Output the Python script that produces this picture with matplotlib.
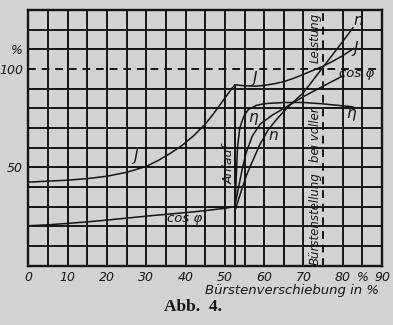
import matplotlib
matplotlib.use("Agg")
import matplotlib.pyplot as plt
import numpy as np

# Abb. 4 (x: Bürstenverschiebung in %, y: %)
J1_x = [0, 5, 10, 15, 20, 25, 30, 33, 36, 39, 42, 45, 47, 49, 51, 52.5]
J1_y = [42.5, 43, 43.5, 44.3, 45.5, 47.5, 50.5, 53.5, 57, 61, 66, 72, 77, 82.5, 88, 92]
J2_x = [52.5, 55, 58, 60, 62.5, 65, 67.5, 70, 72.5, 75, 77.5, 80, 82.8]
J2_y = [92, 91.5, 91.3, 91.7, 92.5, 93.6, 95.3, 97.3, 99.4, 101.5, 104, 106.8, 110.5]

cos1_x = [0, 5, 10, 15, 20, 25, 30, 35, 40, 45, 50, 52.5]
cos1_y = [20.3, 20.8, 21.5, 22.3, 23.2, 24.2, 25.2, 26.1, 27, 28, 29.2, 30]
cos2_x = [52.5, 53.5, 54.5, 55.5, 57, 59, 62, 65, 70, 75, 80]
cos2_y = [30, 40, 50, 58, 66, 72, 76.5, 80, 86, 91.3, 96.5]

n_x = [52.6, 54, 55.5, 57, 59, 61, 63, 65, 67, 70, 75, 80, 82.6]
n_y = [28, 37, 46, 53, 62, 69, 74, 78.5, 82.5, 88, 101, 114, 121]

eta_x = [52.6, 52.9, 53.2, 53.8, 54.8, 56, 58, 60, 65, 70, 75, 80, 82.6]
eta_y = [30, 45, 60, 70, 76, 79.5, 81.5, 82.4, 83, 83, 82.3, 81.3, 80.8]

anlauf_x = 52.5
volle_x = 75

xticks = [0, 10, 20, 30, 40, 50, 60, 70, 80, 85, 90]
xlabels = ["0", "10", "20", "30", "40", "50", "60", "70", "80", "%", "90"]
yticks = [50, 100, 110]
ylabels = ["50", "100", "%"]

paper = "#d2d2d2"
ink = "#141414"

fig = plt.figure(figsize=(3.93, 3.25), dpi=100, facecolor=paper)
ax = fig.add_axes([0.0725, 0.1825, 0.8995, 0.7865])
ax.set_facecolor(paper)
ax.set_xlim(0, 90)
ax.set_ylim(0, 130)

# grid paper
for gx in np.arange(5, 90, 5):
    if gx != volle_x:
        ax.axvline(gx, color=ink, lw=1.4, zorder=1)
for gy in np.arange(10, 130, 10):
    if gy != 100:
        ax.axhline(gy, color=ink, lw=1.4, zorder=1)
ax.axhline(100, color=ink, lw=1.4, ls=(0, (4, 3)), zorder=1)
ax.axvline(volle_x, color=ink, lw=1.4, ls=(0, (4, 3)), zorder=1)
for s in ax.spines.values():
    s.set_linewidth(1.7)
    s.set_color(ink)

# curves
lw = 1.1
ax.plot(J1_x, J1_y, color=ink, lw=lw, zorder=3)
ax.plot(J2_x, J2_y, color=ink, lw=lw, zorder=3)
ax.plot([anlauf_x, anlauf_x], [0, J1_y[-1]], color=ink, lw=1.4, zorder=3)
ax.plot(cos1_x, cos1_y, color=ink, lw=lw, zorder=3)
ax.plot(cos2_x, cos2_y, color=ink, lw=lw, zorder=3)
ax.plot(n_x, n_y, color=ink, lw=lw, zorder=3)
ax.plot(eta_x, eta_y, color=ink, lw=lw, zorder=3)

# curve labels
lab = dict(color=ink, style="italic", ha="center", va="center", zorder=4)
ax.text(27.3, 55.5, "J", fontsize=11, **lab)
ax.text(57.6, 95, "J", fontsize=11, **lab)
ax.text(83.3, 110.5, "J", fontsize=11, **lab)
ax.text(84.0, 124.5, "n", fontsize=11, **lab)
ax.text(62.3, 66.4, "n", fontsize=11, **lab)
ax.text(57.2, 75.2, "η", fontsize=11, **lab)
ax.text(82.2, 77.5, "η", fontsize=11, **lab)
ax.text(39.8, 24.2, "cos φ", fontsize=9.5, **lab)
ax.text(83.5, 97.8, "cos φ", fontsize=9.5, **lab)
ax.text(51.0, 51.5, "Anlauf", fontsize=9, rotation=90, **lab)
ax.text(73.0, 24.0, "Bürstenstellung", fontsize=8.5, rotation=90, **lab)
ax.text(73.0, 66.5, "bei voller", fontsize=8.5, rotation=90, **lab)
ax.text(73.0, 116.0, "Leistung", fontsize=8.5, rotation=90, **lab)

# axes labels
ax.set_xticks(xticks)
ax.set_xticklabels(xlabels, fontsize=9, style="italic", color=ink)
ax.set_yticks(yticks)
ax.set_yticklabels(ylabels, fontsize=9, style="italic", color=ink)
ax.tick_params(length=0, pad=4)
ax.text(0.745, -0.07, "Bürstenverschiebung in %", transform=ax.transAxes,
        fontsize=9.5, style="italic", ha="center", va="top", color=ink)

fig.text(0.49, 0.055, "Abb.  4.", fontsize=12.5, fontweight="bold",
         family="Liberation Serif", ha="center", va="center", color=ink)

fig.savefig("out.png", dpi=100, facecolor=paper)
